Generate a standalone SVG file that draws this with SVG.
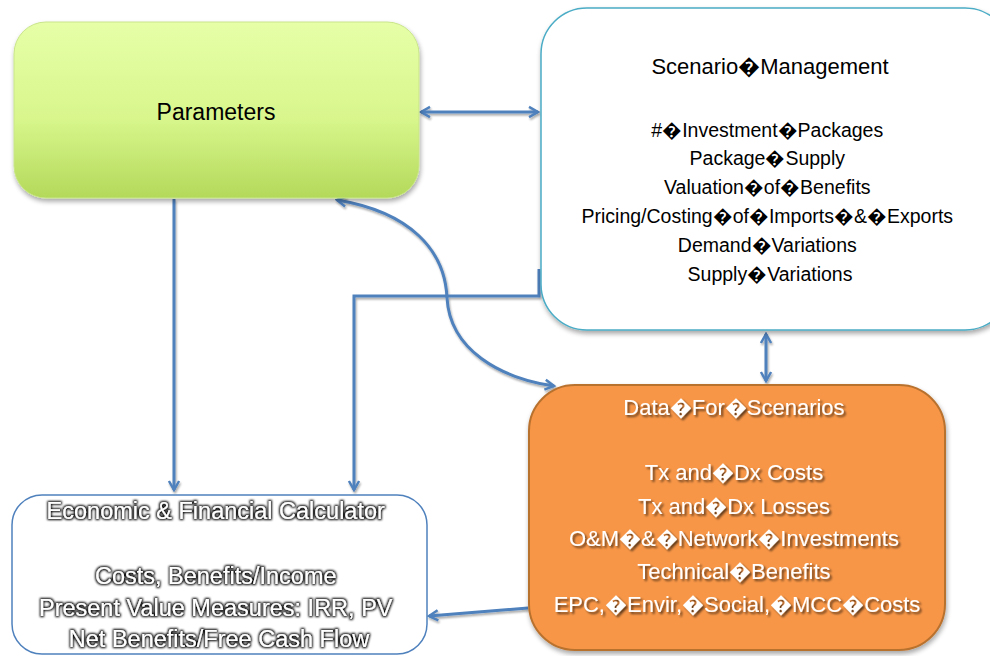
<svg xmlns="http://www.w3.org/2000/svg" width="990" height="656" viewBox="0 0 990 656">
<defs>
<linearGradient id="gGreen" x1="0" y1="0" x2="0" y2="1">
<stop offset="0" stop-color="#e6ffa8"/>
<stop offset="0.55" stop-color="#d8f68c"/>
<stop offset="1" stop-color="#b3d95a"/>
</linearGradient>
<filter id="boxShadow" x="-10%" y="-10%" width="120%" height="125%">
<feGaussianBlur in="SourceAlpha" stdDeviation="2.5"/>
<feOffset dx="1" dy="3"/>
<feComponentTransfer><feFuncA type="linear" slope="0.35"/></feComponentTransfer>
<feMerge><feMergeNode/><feMergeNode in="SourceGraphic"/></feMerge>
</filter>
<filter id="lineShadow" x="-10%" y="-10%" width="120%" height="120%">
<feGaussianBlur in="SourceAlpha" stdDeviation="1"/>
<feOffset dx="1" dy="2"/>
<feComponentTransfer><feFuncA type="linear" slope="0.35"/></feComponentTransfer>
<feMerge><feMergeNode/><feMergeNode in="SourceGraphic"/></feMerge>
</filter>
<filter id="textShadow" x="-5%" y="-20%" width="110%" height="150%">
<feGaussianBlur in="SourceAlpha" stdDeviation="1"/>
<feOffset dx="1.5" dy="1.5"/>
<feComponentTransfer><feFuncA type="linear" slope="0.6"/></feComponentTransfer>
<feMerge><feMergeNode/><feMergeNode in="SourceGraphic"/></feMerge>
</filter>
<filter id="textGlow" x="-5%" y="-20%" width="110%" height="150%">
<feMorphology in="SourceAlpha" operator="dilate" radius="1.2"/>
<feGaussianBlur stdDeviation="1.2"/>
<feComponentTransfer><feFuncA type="linear" slope="1"/></feComponentTransfer>
<feMerge><feMergeNode/><feMergeNode in="SourceGraphic"/></feMerge>
</filter>
<marker id="arr" viewBox="0 0 12 12" refX="10" refY="6" markerWidth="4.5" markerHeight="4.5" orient="auto-start-reverse" markerUnits="strokeWidth">
<path d="M2,1.5 L10,6 L2,10.5" fill="none" stroke="#4f81bd" stroke-width="2.2"/>
</marker>
<style>
.t{font-family:"Liberation Sans",Arial,sans-serif;text-anchor:middle}
.blk{fill:#000}
.wht{fill:#fff}
.con{fill:none;stroke:#4f81bd;stroke-width:3}
</style>
</defs>

<g id="connectors" filter="url(#lineShadow)">
<path class="con" d="M421,112 L538,112" marker-start="url(#arr)" marker-end="url(#arr)"/>
<path class="con" d="M174,199 L174,490" marker-end="url(#arr)"/>
<path class="con" d="M539,269 L539,296 L354,296 L354,490" marker-end="url(#arr)"/>
<path class="con" d="M337,200 C410,212 445,250 447,298 C450,350 500,378 554,386" marker-start="url(#arr)" marker-end="url(#arr)"/>
<path class="con" d="M766,334 L766,381" marker-start="url(#arr)" marker-end="url(#arr)"/>
<path class="con" d="M528,608 L429,616" marker-end="url(#arr)"/>
</g>

<g id="parameters">
<rect x="14" y="22" width="405" height="176" rx="32" fill="url(#gGreen)" stroke="#c9e58a" stroke-width="1" filter="url(#boxShadow)"/>
<text class="t blk" x="216" y="120" font-size="23">Parameters</text>
</g>

<g id="scenario-management">
<rect x="541" y="8" width="470" height="322" rx="46" fill="#fff" stroke="#4bacc6" stroke-width="1.5" filter="url(#boxShadow)"/>
<text class="t blk" x="770" y="74" font-size="22">Scenario�Management</text>
<text class="t blk" font-size="19.5">
<tspan x="770" y="137">#�Investment�Packages</tspan>
<tspan x="770" y="165">Package�Supply</tspan>
<tspan x="770" y="194">Valuation�of�Benefits</tspan>
<tspan x="770" y="223">Pricing/Costing�of�Imports�&amp;�Exports</tspan>
<tspan x="770" y="252">Demand�Variations</tspan>
<tspan x="770" y="281">Supply�Variations</tspan>
</text>
</g>

<g id="data-for-scenarios">
<rect x="529" y="385" width="416" height="265" rx="46" fill="#f79646" stroke="#b9712f" stroke-width="2" filter="url(#boxShadow)"/>
<text class="t wht" font-size="22" filter="url(#textShadow)">
<tspan x="737" y="415">Data�For�Scenarios</tspan>
<tspan x="737" y="480">Tx and�Dx Costs</tspan>
<tspan x="737" y="514">Tx and�Dx Losses</tspan>
<tspan x="737" y="546">O&amp;M�&amp;�Network�Investments</tspan>
<tspan x="737" y="579">Technical�Benefits</tspan>
<tspan x="737" y="612">EPC,�Envir,�Social,�MCC�Costs</tspan>
</text>
</g>

<g id="economic-financial-calculator">
<rect x="12" y="495" width="415" height="159" rx="30" fill="#fff" stroke="#4f81bd" stroke-width="1.5"/>
<text class="t wht" font-size="23.5" filter="url(#textGlow)">
<tspan x="219" y="519">Economic &amp; Financial Calculator</tspan>
<tspan x="219" y="584">Costs, Benefits/Income</tspan>
<tspan x="219" y="616">Present Value Measures: IRR, PV</tspan>
<tspan x="219" y="647">Net Benefits/Free Cash Flow</tspan>
</text>
</g>
</svg>
